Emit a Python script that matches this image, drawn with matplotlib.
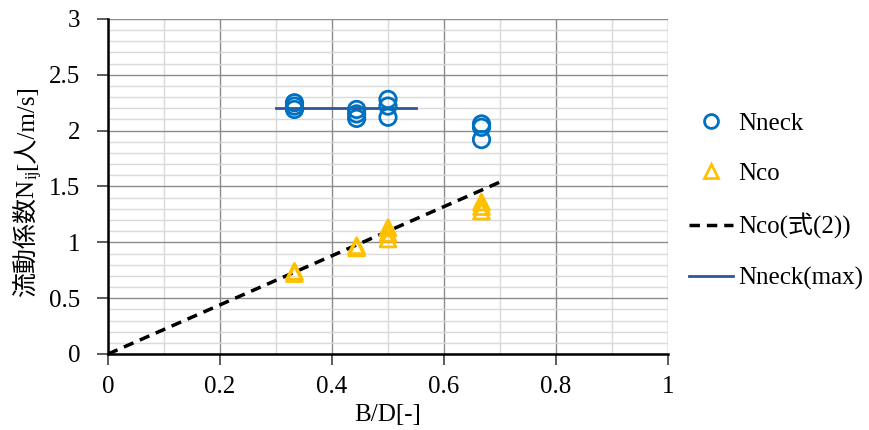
import matplotlib
matplotlib.use("Agg")
import matplotlib.pyplot as plt
from matplotlib.ticker import MultipleLocator
from matplotlib.lines import Line2D

plt.rcParams['font.family'] = ['Liberation Serif', 'Noto Sans CJK JP']

# Nneck の測定値
neck_x = [0.333, 0.333, 0.333, 0.444, 0.444, 0.444, 0.5, 0.5, 0.5, 0.667, 0.667, 0.667]
neck_y = [2.19, 2.22, 2.25, 2.11, 2.15, 2.19, 2.28, 2.22, 2.12, 2.06, 2.03, 1.92]

# Nco の測定値
co_x = [0.333, 0.333, 0.444, 0.444, 0.5, 0.5, 0.5, 0.667, 0.667, 0.667]
co_y = [0.72, 0.74, 0.95, 0.97, 1.03, 1.08, 1.13, 1.28, 1.32, 1.36]

# 式(2)
eq_x = [0.0, 0.7]
eq_y = [0.0, 1.54]

# Nneck(max)
max_x = [0.3, 0.55]
max_y = [2.2, 2.2]

W, H = 869, 430
fig = plt.figure(figsize=(W / 100, H / 100), dpi=100)
ax = fig.add_axes([108 / W, 1 - 354 / H, 560 / W, 335 / H])

ax.plot(eq_x, eq_y, color='black', lw=2.5, ls=(0, (3, 2)), zorder=3)
ax.plot(max_x, max_y, color='#2F5597', lw=2, zorder=3)
ax.scatter(neck_x, neck_y, s=140, facecolors='none', edgecolors='#0070C0', linewidths=2, zorder=4)
ax.scatter(co_x, co_y, s=130, marker='^', facecolors='none', edgecolors='#FFC000', linewidths=2, zorder=4)

ax.set_xlim(0, 1)
ax.set_ylim(0, 3)
ax.xaxis.set_minor_locator(MultipleLocator(0.1))
ax.yaxis.set_minor_locator(MultipleLocator(0.1))
ax.set_xticks([0, 0.2, 0.4, 0.6, 0.8, 1])
ax.set_xticklabels(['0', '0.2', '0.4', '0.6', '0.8', '1'])
ax.set_yticks([0, 0.5, 1, 1.5, 2, 2.5, 3])
ax.set_yticklabels(['0', '0.5', '1', '1.5', '2', '2.5', '3'])
ax.grid(which='major', color='#8C8C8C', lw=1)
ax.grid(which='minor', color='#D9D9D9', lw=1)
ax.set_axisbelow(True)
ax.tick_params(which='major', direction='out', length=8, width=1.2, labelsize=18, color='#404040')
ax.tick_params(which='minor', length=0)
ax.tick_params(axis='x', pad=8)
ax.tick_params(axis='y', pad=12)
for side in ['top', 'right']:
    ax.spines[side].set_visible(False)
for side in ['left', 'bottom']:
    ax.spines[side].set_linewidth(1.8)
ax.set_xlabel('B/D[-]', fontsize=18, labelpad=4)

handles = [
    Line2D([], [], ls='none', marker='o', ms=10, mfc='none', mec='#0070C0', mew=2),
    Line2D([], [], ls='none', marker='^', ms=10, mfc='none', mec='#FFC000', mew=2),
    Line2D([], [], color='black', lw=2.5, ls=(0, (3, 2))),
    Line2D([], [], color='#2F5597', lw=2),
]
labels = ['Nneck', 'Nco', 'Nco(式(2))', 'Nneck(max)']
fig.legend(handles, labels, loc='upper left', bbox_to_anchor=(689 / W, 1 - 112 / H),
           frameon=False, fontsize=18, handlelength=1.75, handletextpad=0.2,
           labelspacing=1.12, borderpad=0, borderaxespad=0)

# 縦軸ラベル (添字付き)
fig.canvas.draw()
renderer = fig.canvas.get_renderer()
parts = [('流動係数N', 18, 0), ('ij', 12, 4), ('[人/m/s]', 18, 0)]
texts = []
lengths = []
for s, fs, dx in parts:
    t = fig.text(0, 0, s, fontsize=fs, rotation=90, rotation_mode='anchor',
                 ha='left', va='baseline')
    lengths.append(t.get_window_extent(renderer).height)
    texts.append((t, dx))
total = sum(lengths)
ypos = (H - 191) - total / 2
xb = 33
for (t, dx), L in zip(texts, lengths):
    t.set_position(((xb + dx) / W, ypos / H))
    ypos += L

fig.savefig('out.png', dpi=100)
